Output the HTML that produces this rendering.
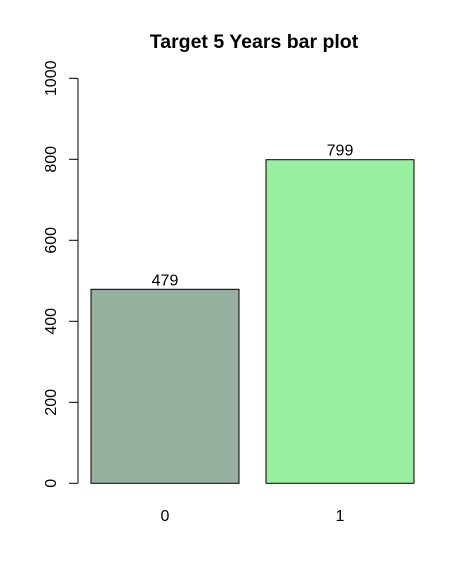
<!DOCTYPE html>
<html><head><meta charset="utf-8"><style>body{margin:0;background:#fff}svg{display:block}text{font-family:"Liberation Sans",sans-serif}</style></head>
<body>
<svg id="c" width="468" height="582">
<text x="254" y="48" text-anchor="middle" font-size="19.5" font-weight="bold">Target 5 Years bar plot</text>
</svg>
<script>
const categories=["0","1"];
const values=[479,799];
const yTicks=[0,200,400,600,800,1000];
const colors=["#97B1A1","#98EFA0"];
const svg=document.getElementById('c');const NS='http://www.w3.org/2000/svg';
function y(v){return 483.3-v*0.405;}
function x(i){return 91+i*175;}
const bw=148;
function mk(t,a,txt){const e=document.createElementNS(NS,t);for(const k in a)e.setAttribute(k,a[k]);if(txt!=null)e.textContent=txt;svg.appendChild(e);return e;}
let ax=mk('line',{x1:78,x2:78,y1:y(0),y2:y(1000),stroke:'#000','stroke-width':1});


yTicks.forEach(t=>{
 let l=mk('line',{x1:69,x2:78,y1:y(t),y2:y(t),stroke:'#000'});
 
 
 let tx=mk('text',{x:0,y:0,'font-size':16,'text-anchor':'middle',transform:`translate(56,${y(t)}) rotate(-90)`},t);
 
 
});
categories.forEach((c,i)=>{
 let r=mk('rect',{x:x(i),y:y(values[i]),width:bw,height:y(0)-y(values[i]),fill:colors[i],stroke:'#000','stroke-width':1});
 
 
 let v=mk('text',{x:x(i)+bw/2,y:y(values[i])-4,'font-size':16,'text-anchor':'middle'},values[i]);
 
 
 let cl=mk('text',{x:x(i)+bw/2,y:521,'font-size':16,'text-anchor':'middle'},c);
 
 
});
</script>
</body></html>
